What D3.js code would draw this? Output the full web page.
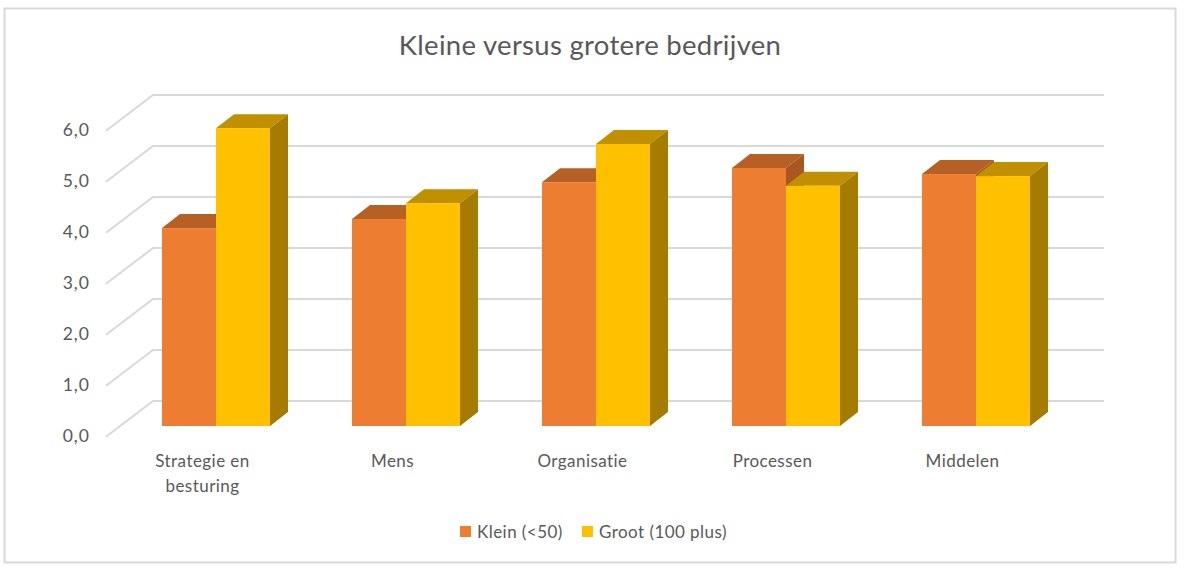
<!DOCTYPE html>
<html><head><meta charset="utf-8">
<script src="https://cdn.jsdelivr.net/npm/d3@7/dist/d3.min.js"></script>
<style>html,body{margin:0;padding:0;background:#fff}svg{display:block}text{font-family:Lato,"Open Sans",sans-serif;fill:#595959}</style>
</head><body><svg id="c" width="1186" height="576"></svg>
<script>
const categories=["Strategie en|besturing","Mens","Organisatie","Processen","Middelen"];
const seriesNames=["Klein (<50)","Groot (100 plus)"];
const klein=[3.88,4.06,4.78,5.06,4.94];
const groot=[5.84,4.37,5.53,4.71,4.90];
const yTicks=[0,1,2,3,4,5,6];
const title="Kleine versus grotere bedrijven";
const colors=[{front:"#ED7D31",top:"#B66025",side:"#A85722"},{front:"#FFC000",top:"#C09000",side:"#A67C00"}];

const svg=d3.select("#c");
const fmt=d=>d.toFixed(1).replace(".",",");
const depthX=18,depthY=14;
const x=d3.scaleBand().domain(categories).range([121,1071]).paddingInner(82/190).paddingOuter(41/190);
const s=d3.scaleBand().domain(seriesNames).range([0,x.bandwidth()]);
const y=d3.scaleLinear().domain([0,6]).range([426,120]);

svg.append("rect").attr("x",4.5).attr("y",8.5).attr("width",1171).attr("height",554)
  .attr("fill","#fff").attr("stroke","#d9d9d9").attr("stroke-width",2);
svg.append("text").attr("x",590).attr("y",55).attr("text-anchor","middle").attr("font-size",27.5).attr("letter-spacing",0.3).text(title);

const wallFront={dx:-20,dy:10.7},wallBack={dx:27,dy:-25};
const gridX0=126,gridX1=1104;
const grid=svg.append("g").attr("fill","none").attr("stroke","#d9d9d9");
yTicks.forEach(t=>{
  grid.append("path").attr("stroke-width",2).attr("d",d3.line()([[gridX0+wallFront.dx,y(t)+wallFront.dy],[gridX0+wallBack.dx,y(t)+wallBack.dy],[gridX1,y(t)+wallBack.dy]]));
  svg.append("text").attr("x",90).attr("y",y(t)+16).attr("text-anchor","end").attr("font-size",17.5).attr("letter-spacing",1).text(fmt(t));
});

function drawBar(cat,name,v,c){
  const x0=x(cat)+s(name),x1=x0+s.bandwidth(),yt=y(v),yb=y(0);
  const g=svg.append("g");
  g.append("polygon").attr("fill",c.top).attr("points",[[x0,yt],[x0+depthX,yt-depthY],[x1+depthX,yt-depthY],[x1,yt]].join(" "));
  g.append("polygon").attr("fill",c.side).attr("points",[[x1,yt],[x1+depthX,yt-depthY],[x1+depthX,yb-depthY],[x1,yb]].join(" "));
  g.append("rect").attr("fill",c.front).attr("x",x0).attr("y",yt).attr("width",x1-x0).attr("height",yb-yt);
}
categories.forEach((cat,i)=>{
  drawBar(cat,seriesNames[0],klein[i],colors[0]);
  drawBar(cat,seriesNames[1],groot[i],colors[1]);
  const t=svg.append("text").attr("text-anchor","middle").attr("font-size",17).attr("letter-spacing",0.45);
  cat.split("|").forEach((line,j)=>{
    t.append("tspan").attr("x",x(cat)+x.bandwidth()/2-13.5).attr("y",467+j*25).text(line);
  });
});
const legendX=[460,582];
seriesNames.forEach((n,i)=>{
  svg.append("rect").attr("x",legendX[i]).attr("y",526).attr("width",11).attr("height",11).attr("fill",colors[i].front);
  svg.append("text").attr("x",legendX[i]+17).attr("y",538).attr("font-size",17).attr("letter-spacing",0.45).text(n);
});
</script></body></html>
